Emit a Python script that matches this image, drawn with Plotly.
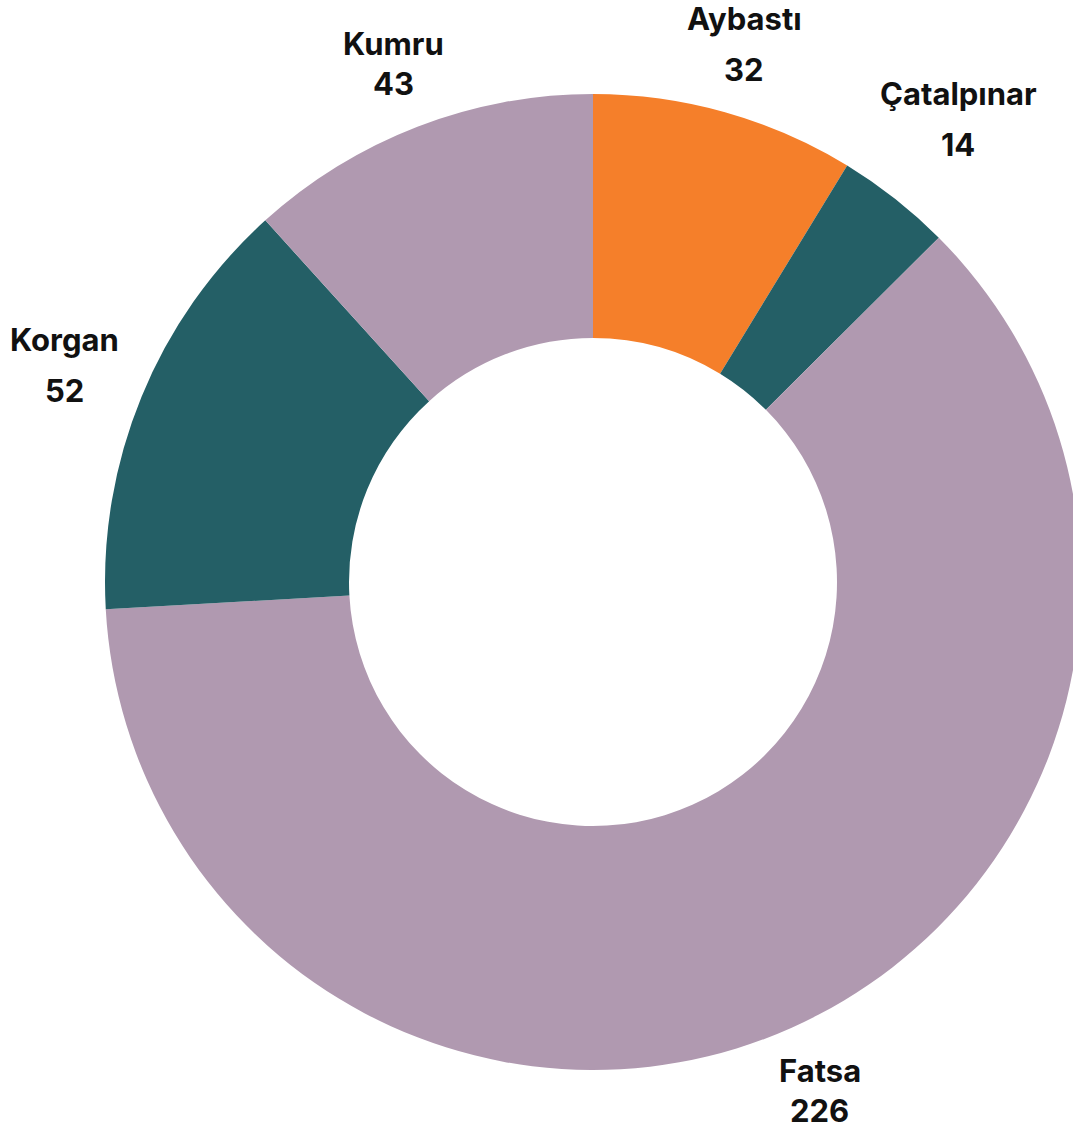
import numpy as np
import plotly.graph_objects as go

labels = ["Aybastı", "Çatalpınar", "Fatsa", "Korgan", "Kumru"]
values = [32, 14, 226, 52, 43]
colors = ["#F57F2A", "#245F66", "#B099B0", "#245F66", "#B099B0"]

# layout (pixels)
WF, HF = 1100, 1133          # figure size (page clipped to 1073 wide)
CX, CY, R = 593, 582, 488    # pie centre and outer radius
FS = 31                      # label font size
LABEL_CLEAR = 512            # label blocks sit just outside this radius
CHAR_W = 0.55 * FS           # rough glyph width
GAP_PLAIN, GAP_DESC = 40, 51 # line spacing (labels with descenders get more)
HALF_H_PLAIN, HALF_H_DESC = 30, 32
DESCENDERS = set("gjpqyÇçşŞ")

fig = go.Figure(go.Pie(
    labels=labels,
    values=values,
    hole=0.5,
    sort=False,
    direction="clockwise",
    rotation=0,
    marker=dict(colors=colors, line=dict(width=0)),
    textinfo="none",
    showlegend=False,
    hoverinfo="label+value",
    domain=dict(x=[(CX - R) / WF, (CX + R) / WF],
                y=[(HF - CY - R) / HF, (HF - CY + R) / HF]),
))

# labels placed along each slice's mid-angle, outside the ring
vals = np.array(values, dtype=float)
start = np.cumsum(vals) - vals
mid = np.deg2rad((start + vals / 2) / vals.sum() * 360.0)
font = dict(family="Inter", size=FS, color="#111111", weight="bold")
for lab, val, a in zip(labels, values, mid):
    s, c = np.sin(a), np.cos(a)
    desc = any(ch in DESCENDERS for ch in lab)
    half_w = CHAR_W * max(len(lab), len(str(val))) / 2
    half_h = HALF_H_DESC if desc else HALF_H_PLAIN
    gap = GAP_DESC if desc else GAP_PLAIN
    d = LABEL_CLEAR + half_w * abs(s) + half_h * abs(c)
    px, py = CX + d * s, CY - d * c
    for txt, yy in ((lab, py - gap / 2), (str(val), py + gap / 2)):
        fig.add_annotation(
            x=px / WF, y=1 - yy / HF, xref="paper", yref="paper",
            text=txt, showarrow=False,
            xanchor="center", yanchor="middle", align="center",
            font=font,
        )

fig.update_layout(
    width=WF, height=HF, autosize=False,
    margin=dict(l=0, r=0, t=0, b=0),
    paper_bgcolor="white", plot_bgcolor="white",
)

fig.write_html(
    "out.html",
    config={"displayModeBar": False},
    post_script="document.body.style.margin='0';document.body.style.overflow='hidden';document.documentElement.style.overflow='hidden';",
)
